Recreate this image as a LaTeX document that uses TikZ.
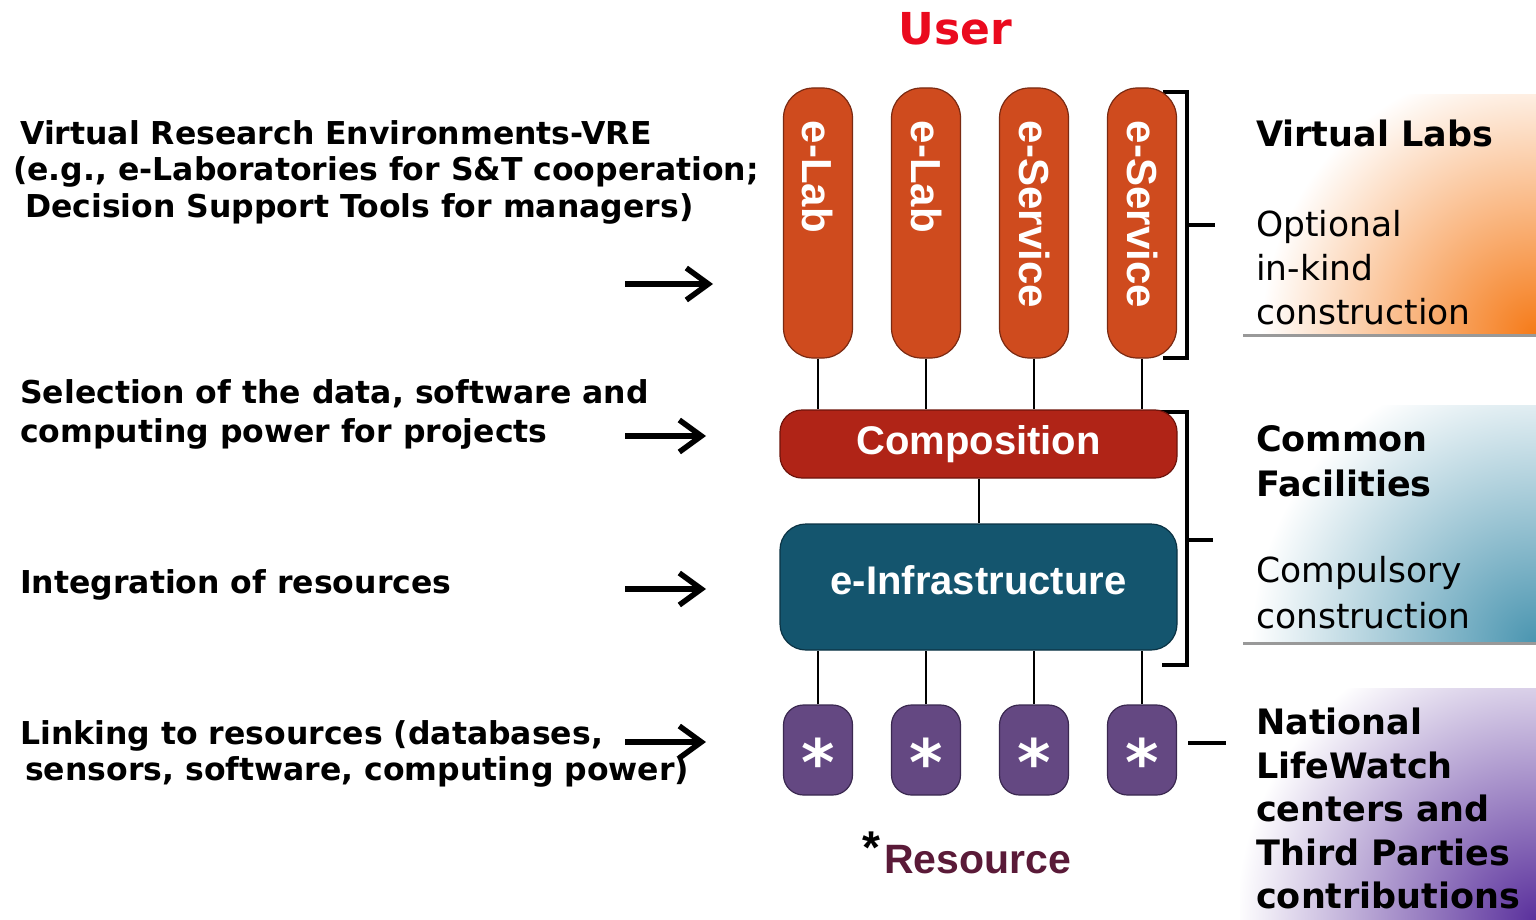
\documentclass[tikz,border=0pt]{standalone}
\usepackage{fontspec}
\setmainfont{DejaVu Sans}
\newfontfamily\boxfont{Liberation Sans}
\usetikzlibrary{arrows.meta}

\definecolor{labfill}{HTML}{CF4B1E}
\definecolor{labline}{HTML}{7A2A12}
\definecolor{compfill}{HTML}{B02417}
\definecolor{compline}{HTML}{6E140C}
\definecolor{infrafill}{HTML}{14556E}
\definecolor{infraline}{HTML}{0B3344}
\definecolor{resfill}{HTML}{644882}
\definecolor{resline}{HTML}{3A2850}
\definecolor{userred}{HTML}{EA0A1E}
\definecolor{restext}{HTML}{5A1A38}
\definecolor{panelorange}{HTML}{F57A18}
\definecolor{panelteal}{HTML}{4A95B0}
\definecolor{panelpurple}{HTML}{5A309C}

\begin{document}
\begin{tikzpicture}[x=1pt, y=-1pt,
  lab/.style={draw=labline, line width=1.2pt, fill=labfill, rounded corners=30pt,
    rotate=-90, minimum height=69pt, text width=204pt, inner xsep=33pt,
    inner ysep=0pt, align=left, text=white,
    font=\boxfont\bfseries\fontsize{42}{44}\selectfont},
  layer/.style={line width=1.2pt, minimum width=397pt, text=white,
    font=\boxfont\bfseries\fontsize{40}{44}\selectfont},
  res/.style={draw=resline, line width=1.2pt, fill=resfill, rounded corners=20pt,
    minimum width=69pt, minimum height=90pt, inner sep=0pt, text=white,
    font=\bfseries\fontsize{64}{64}\selectfont},
  link/.style={line width=2pt, black},
  brace/.style={line width=4pt, black},
  pointer/.style={line width=5.5pt, black,
    -{Straight Barb[length=22pt, width=32pt, line width=5.5pt]}},
  lefttext/.style={anchor=north west, inner sep=0pt, align=left,
    font=\bfseries\fontsize{31.5}{36.5}\selectfont},
  headtext/.style={anchor=north west, inner sep=0pt, align=left,
    font=\bfseries\fontsize{35}{43.5}\selectfont},
  bodytext/.style={anchor=north west, inner sep=0pt, align=left,
    font=\fontsize{34.5}{44}\selectfont},
  panelrule/.style={line width=3pt, black!40},
]
\useasboundingbox (0,0) rectangle (1536,920);
\fill[white] (0,0) rectangle (1536,920);

% shaded side panels, glowing from their lower right corners
\begin{scope}
  \clip (1240,95) rectangle (1536,335);
  \shade[inner color=panelorange, outer color=white] (1536,335) circle (275);
\end{scope}
\begin{scope}
  \clip (1240,405) rectangle (1536,643);
  \shade[inner color=panelteal, outer color=white] (1536,643) circle (285);
\end{scope}
\begin{scope}
  \clip (1240,688) rectangle (1536,920);
  \shade[inner color=panelpurple, outer color=white] (1536,920) circle (300);
\end{scope}
\draw[panelrule] (1243,335) -- (1536,335);
\draw[panelrule] (1243,643) -- (1536,643);

% brackets grouping the layers
\draw[brace] (1163,92) -- (1187,92) -- (1187,358) -- (1163,358);
\draw[brace] (1187,225) -- (1215,225);
\draw[brace] (1160,412) -- (1187,412) -- (1187,665) -- (1162,665);
\draw[brace] (1187,540) -- (1213,540);
\draw[brace] (1188,743) -- (1226,743);

% title
\node[anchor=base, text=userred, font=\bfseries\fontsize{44}{48}\selectfont]
  (user) at (955,45) {User};

% virtual labs
\node[lab] (l1) at (818,223) {e-Lab};
\node[lab] (l2) at (926,223) {e-Lab};
\node[lab] (l3) at (1034,223) {e-Service};
\node[lab] (l4) at (1142,223) {e-Service};

% common facilities
\node[layer, draw=compline, fill=compfill, minimum height=68pt,
  rounded corners=22pt] (comp) at (978.5,444) {Composition};
\node[layer, draw=infraline, fill=infrafill, minimum height=126pt,
  rounded corners=26pt] (einf) at (978.5,587)
  {\raisebox{7pt}[\height][\depth]{e-Infrastructure}};

% resources
\node[res] (r1) at (818,750) {\raisebox{-0.55em}[0.2em][0.2em]{*}};
\node[res] (r2) at (926,750) {\raisebox{-0.55em}[0.2em][0.2em]{*}};
\node[res] (r3) at (1034,750) {\raisebox{-0.55em}[0.2em][0.2em]{*}};
\node[res] (r4) at (1142,750) {\raisebox{-0.55em}[0.2em][0.2em]{*}};

\foreach \i in {1,...,4} {
  \draw[link] (l\i.east) -- (l\i.east |- comp.north);
  \draw[link] (r\i.north) -- (r\i.north |- einf.south);
}
\draw[link] (comp.south) -- (einf.north);

\node[anchor=base west, text=restext, inner sep=0pt,
  font=\boxfont\bfseries\fontsize{41}{44}\selectfont] (reslabel) at (862,873)
  {{\color{black}\fontsize{46}{46}\selectfont\raisebox{10pt}{*}}\hspace{4pt}Resource};

% left-hand descriptions
\node[lefttext] (vre) at (20,120)
  {Virtual Research Environments-VRE\\
   \hspace*{-7pt}(e.g., e-Laboratories for S\&T cooperation;\\
   \hspace*{5pt}Decision Support Tools for managers)};
\node[lefttext, font=\bfseries\fontsize{31.5}{39}\selectfont] (sel) at (20,379)
  {Selection of the data, software and\\computing power for projects};
\node[lefttext, anchor=base west] (integ) at (20,593) {Integration of resources};
\node[lefttext] (link) at (20,720)
  {Linking to resources (databases,\\
   \hspace*{5pt}sensors, software, computing power)};

% arrows towards the layers
\coordinate (a1s) at (625,284); \coordinate (a1e) at (713,284);
\coordinate (a2s) at (625,436); \coordinate (a2e) at (706,436);
\coordinate (a3s) at (625,589); \coordinate (a3e) at (706,589);
\coordinate (a4s) at (625,742); \coordinate (a4e) at (706,742);
\foreach \i in {1,...,4} \draw[pointer] (a\i s) -- (a\i e);

% right-hand descriptions
\node[headtext, anchor=base west] (vl) at (1256,147) {Virtual Labs};
\node[bodytext] (vlb) at (1256,210) {Optional\\in-kind\\construction};
\node[headtext, font=\bfseries\fontsize{35}{45}\selectfont] (cf) at (1256,425)
  {Common\\Facilities};
\node[bodytext, font=\fontsize{34.5}{46}\selectfont] (cfb) at (1256,556)
  {Compulsory\\construction};
\node[headtext] (nl) at (1256,708)
  {National\\LifeWatch\\centers and\\Third Parties\\contributions};
\end{tikzpicture}
\end{document}
